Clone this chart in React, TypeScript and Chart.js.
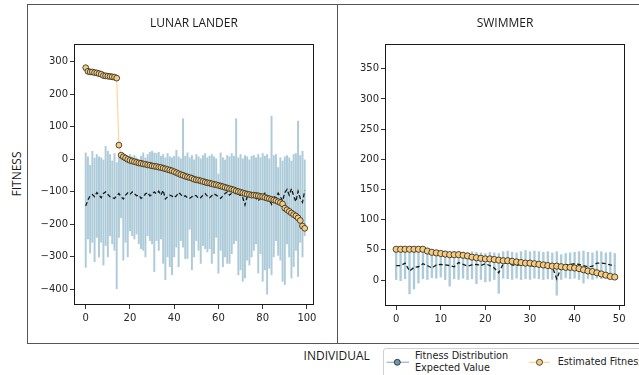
import React, { useEffect, useRef } from 'react';
import { Chart, registerables } from 'chart.js';
Chart.register(...registerables);

// ---------- LUNAR LANDER (100 individuals) ----------
const LL_EST = [
  282, 271, 269, 269, 267, 266, 264, 262, 258, 257,
  256, 255, 254, 253, 250, 44, 13, 8, 4, 0,
  -3, -5, -7, -9, -11, -12, -14, -15, -17, -18,
  -20, -21, -22, -24, -25, -27, -29, -31, -33, -35,
  -38, -41, -44, -47, -49, -52, -54, -56, -58, -61,
  -63, -64, -66, -68, -70, -72, -73, -75, -77, -78,
  -80, -82, -84, -86, -88, -90, -92, -94, -97, -99,
  -101, -103, -105, -107, -108, -110, -110, -111, -112, -114,
  -115, -117, -119, -121, -123, -125, -127, -130, -133, -137,
  -150, -155, -160, -165, -170, -174, -180, -188, -205, -212,
];
const LL_EXP = [
  -143, -125, -112, -108, -115, -102, -110, -118, -105, -100,
  -108, -115, -118, -120, -112, -105, -115, -122, -110, -103,
  -108, -100, -106, -112, -110, -120, -115, -106, -102, -112,
  -108, -100, -106, -98, -110, -95, -122, -115, -110, -113,
  -118, -112, -102, -108, -115, -112, -118, -120, -115, -110,
  -112, -120, -118, -110, -105, -113, -118, -112, -106, -110,
  -115, -120, -112, -105, -100, -110, -104, -98, -110, -106,
  -112, -118, -140, -115, -108, -105, -112, -120, -128, -118,
  -112, -104, -110, -125, -138, -112, -120, -104, -115, -128,
  -102, -92, -110, -90, -112, -130, -98, -120, -132, -96,
];
const LL_MIN = [
  -332, -245, -288, -255, -315, -240, -300, -255, -325, -265,
  -300, -235, -260, -280, -398, -240, -180, -310, -255, -300,
  -220, -235, -245, -230, -260, -275, -280, -300, -235, -250,
  -260, -345, -250, -280, -245, -320, -370, -300, -330, -355,
  -300, -270, -330, -250, -270, -305, -305, -215, -340, -300,
  -250, -280, -320, -265, -275, -285, -275, -320, -290, -240,
  -350, -280, -330, -300, -320, -320, -290, -260, -250, -355,
  -340, -375, -365, -310, -325, -300, -280, -260, -350, -290,
  -375, -340, -415, -335, -355, -300, -250, -295, -310, -375,
  -385, -260, -300, -365, -330, -280, -360, -255, -300, -235,
];
const LL_MAX = [
  20, 8, -18, 25, 4, 15, 8, 5, 0, 40,
  25, 15, -5, 18, -10, 5, 12, 2, -5, 10,
  15, 8, 12, 5, 0, 10, 20, 5, 15, 22,
  25, 20, 18, 22, 10, 15, 5, 18, 8, 5,
  10, 28, 8, 2, 125, 10, 20, 5, 12, 0,
  15, 8, 2, 12, 18, 5, 10, 15, 8, 2,
  -45, 20, 5, 0, 12, 8, 18, 10, 125, 5,
  15, 2, 12, 8, 0, 10, 12, 5, 15, 5,
  18, 10, 15, 2, 133, 12, 15, -25, 5, -5,
  8, 12, 5, -5, 15, 18, 118, 12, 25, 0,
];
const LL_X_TICKS = [0, 20, 40, 60, 80, 100];
const LL_Y_TICKS = [-400, -300, -200, -100, 0, 100, 200, 300];

// ---------- SWIMMER (50 individuals) ----------
const SW_EST = [
  51, 51, 51, 51, 51, 51, 51, 48, 46, 45,
  44, 43, 42, 42, 42, 41, 40, 38, 37, 36,
  35, 35, 34, 33, 32, 32, 31, 30, 29, 28,
  28, 27, 26, 25, 24, 23, 23, 22, 21, 21,
  20, 19, 17, 15, 14, 12, 10, 8, 6, 5,
];
const SW_EXP = [
  24, 24, 28, 15, 21, 22, 27, 24, 20, 25,
  26, 25, 24, 22, 29, 26, 23, 25, 26, 24,
  27, 24, 20, 12, 27, 29, 25, 24, 26, 25,
  24, 23, 26, 25, 24, 22, 2, 21, 25, 26,
  27, 26, 24, 22, 23, 28, 28, 27, 25, 24,
];
const SW_MIN = [
  0, -1, 2, -23, -15, -5, 2, 0, 4, 3,
  5, 0, -10, 2, 1, 3, 0, 2, -6, 1,
  -3, -2, 0, -22, 3, 2, 1, 3, 0, 2,
  1, 3, 2, 0, 2, 1, -25, 1, 4, 2,
  3, 0, -5, 2, 1, 3, 2, 4, 3, 2,
];
const SW_MAX = [
  48, 47, 46, 45, 46, 47, 45, 46, 44, 47,
  45, 46, 45, 47, 48, 46, 45, 47, 46, 45,
  44, 46, 45, 44, 47, 48, 46, 45, 47, 49,
  47, 48, 47, 46, 47, 45, 47, 42, 44, 45,
  46, 47, 48, 46, 45, 48, 47, 45, 46, 44,
];
const SW_X_TICKS = [0, 10, 20, 30, 40, 50];
const SW_Y_TICKS = [0, 50, 100, 150, 200, 250, 300, 350];

const BAR_COLOR = '#adcbd8';
const EST_LINE = '#fcd594';
const EST_FILL = '#f8cc7c';
const TICK_FONT = { family: 'DejaVu Sans', size: 10 };
const fmt = (v: number) => String(v).replace('-', '\u2212');

const framePlugin = {
  id: 'frame',
  afterDraw(chart: any) {
    const { ctx, chartArea: a } = chart;
    ctx.save();
    ctx.strokeStyle = '#1a1a1a';
    ctx.lineWidth = 1;
    ctx.strokeRect(a.left + 0.5, a.top + 0.5, a.right - a.left - 1, a.bottom - a.top - 1);
    ctx.restore();
  },
};

function makeChart(canvas: HTMLCanvasElement, cfg: any) {
  const xy = (arr: number[]) => arr.map((v, i) => ({ x: i, y: v }));
  return new Chart(canvas, {
    type: 'bar',
    data: {
      datasets: [
        {
          type: 'line',
          label: 'Estimated Fitness',
          data: xy(cfg.est),
          borderColor: EST_LINE,
          borderWidth: 1.1,
          pointRadius: cfg.radius,
          pointBackgroundColor: EST_FILL,
          pointBorderColor: '#222',
          pointBorderWidth: 0.8,
          order: 1,
        } as any,
        {
          type: 'line',
          label: 'Expected Value',
          data: xy(cfg.exp),
          borderColor: '#1a1a1a',
          borderWidth: 1.3,
          borderDash: [4, 2.5],
          pointRadius: 0,
          order: 2,
        } as any,
        {
          type: 'bar',
          label: 'Fitness Distribution',
          data: cfg.min.map((m: number, i: number) => ({ x: i, y: [m, cfg.max[i]] })),
          backgroundColor: BAR_COLOR,
          borderWidth: 0,
          barThickness: cfg.barW,
          order: 3,
        } as any,
      ],
    },
    options: {
      animation: false,
      responsive: false,
      devicePixelRatio: 1,
      layout: { padding: cfg.pad },
      plugins: { legend: { display: false }, tooltip: { enabled: false } },
      scales: {
        x: {
          type: 'linear',
          min: cfg.xMin,
          max: cfg.xMax,
          offset: false,
          afterFit: (s: any) => { s.height = 25; },
          afterBuildTicks: (s: any) => { s.ticks = cfg.xTicks.map((v: number) => ({ value: v })); },
          grid: { display: true, offset: false, drawOnChartArea: false, drawTicks: true, tickLength: 4, color: '#333' },
          border: { display: false },
          ticks: { font: TICK_FONT, color: '#262626', padding: 3, maxRotation: 0, autoSkip: false, callback: (v: number) => fmt(v) },
        },
        y: {
          type: 'linear',
          min: cfg.yMin,
          max: cfg.yMax,
          afterFit: (s: any) => { s.width = cfg.yWidth; },
          afterBuildTicks: (s: any) => { s.ticks = cfg.yTicks.map((v: number) => ({ value: v })); },
          grid: { display: true, drawOnChartArea: false, drawTicks: true, tickLength: 4, color: '#333' },
          border: { display: false },
          ticks: { font: TICK_FONT, color: '#262626', padding: 2, autoSkip: false, callback: (v: number) => fmt(v) },
        },
      },
    },
    plugins: [framePlugin],
  } as any);
}

const titleStyle: React.CSSProperties = {
  position: 'absolute',
  width: 200,
  textAlign: 'center',
  fontFamily: '"Open Sans", sans-serif',
  fontSize: 12,
  lineHeight: '14px',
  color: '#1a1a1a',
  whiteSpace: 'nowrap',
};

export default function App() {
  const leftRef = useRef<HTMLCanvasElement>(null);
  const rightRef = useRef<HTMLCanvasElement>(null);

  useEffect(() => {
    const c1 = makeChart(leftRef.current!, {
      est: LL_EST, exp: LL_EXP, min: LL_MIN, max: LL_MAX,
      xMin: -5.3, xMax: 103.2, yMin: -448, yMax: 355,
      xTicks: LL_X_TICKS, yTicks: LL_Y_TICKS,
      pad: { top: 40, right: 24, bottom: 13, left: 0 },
      yWidth: 47, radius: 2.9, barW: 1.3,
    });
    const c2 = makeChart(rightRef.current!, {
      est: SW_EST, exp: SW_EXP, min: SW_MIN, max: SW_MAX,
      xMin: -2.5, xMax: 51.3, yMin: -43, yMax: 391,
      xTicks: SW_X_TICKS, yTicks: SW_Y_TICKS,
      pad: { top: 40, right: 14, bottom: 12, left: 0 },
      yWidth: 48, radius: 3.1, barW: 1.7,
    });
    return () => { c1.destroy(); c2.destroy(); };
  }, []);

  return (
    <div style={{ position: 'fixed', left: 0, top: 0, width: 639, height: 375, overflow: 'hidden', background: '#fff' }}>
      <div style={{ position: 'absolute', left: 27, top: 4, width: 311, height: 340, border: '1px solid #555', boxSizing: 'border-box' }} />
      <div style={{ position: 'absolute', left: 337, top: 4, width: 320, height: 340, border: '1px solid #555', boxSizing: 'border-box' }} />
      <canvas ref={leftRef} width={311} height={339} style={{ position: 'absolute', left: 27, top: 4, width: 311, height: 339, display: 'block' }} />
      <canvas ref={rightRef} width={302} height={339} style={{ position: 'absolute', left: 337, top: 4, width: 302, height: 339, display: 'block' }} />

      <div style={{ ...titleStyle, left: 94, top: 16.3 }}>LUNAR LANDER</div>
      <div style={{ ...titleStyle, left: 405, top: 16.3 }}>SWIMMER</div>
      <div style={{ ...titleStyle, left: 236.7, top: 348.5 }}>INDIVIDUAL</div>
      <div style={{ ...titleStyle, width: 100, left: 16.5 - 50, top: 173.5 - 7, transform: 'rotate(-90deg)' }}>FITNESS</div>

      <div style={{ position: 'absolute', left: 383, top: 348, width: 300, height: 40, border: '1px solid #d0d0d0', borderRadius: 3, background: '#fff', boxSizing: 'border-box' }} />
      <svg style={{ position: 'absolute', left: 386, top: 356 }} width={24} height={12}>
        <line x1={0.5} y1={6.3} x2={23} y2={6.3} stroke="#9fc0d0" strokeWidth={1.4} />
        <circle cx={11.3} cy={6.3} r={3} fill="#6f97ab" stroke="#222" strokeWidth={0.8} />
      </svg>
      <div style={{ position: 'absolute', left: 415, top: 350.3, fontFamily: '"DejaVu Sans", sans-serif', fontSize: 9.7, lineHeight: '11.5px', color: '#222', whiteSpace: 'nowrap' }}>
        Fitness Distribution<br />Expected Value
      </div>
      <svg style={{ position: 'absolute', left: 528, top: 356 }} width={24} height={12}>
        <line x1={1} y1={6.3} x2={22} y2={6.3} stroke={EST_LINE} strokeWidth={1.2} />
        <circle cx={11.5} cy={6.3} r={3} fill={EST_FILL} stroke="#222" strokeWidth={0.8} />
      </svg>
      <div style={{ position: 'absolute', left: 557.7, top: 356.3, fontFamily: '"DejaVu Sans", sans-serif', fontSize: 9.7, lineHeight: '11.5px', color: '#222', whiteSpace: 'nowrap' }}>
        Estimated Fitness
      </div>
    </div>
  );
}
